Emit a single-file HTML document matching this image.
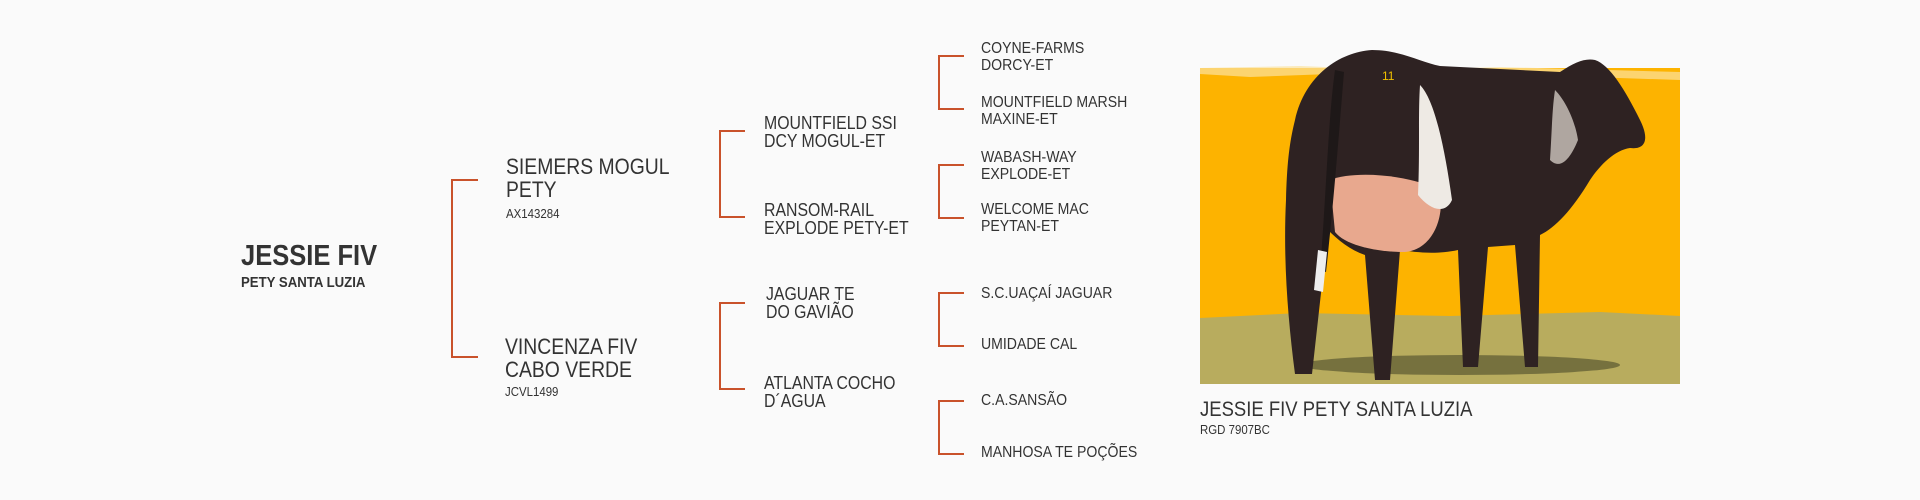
<!DOCTYPE html>
<html><head><meta charset="utf-8">
<style>
html,body{margin:0;padding:0;}
body{width:1920px;height:500px;background:#fafafa;position:relative;overflow:hidden;font-family:"Liberation Sans",sans-serif;color:#333;}
.t{position:absolute;white-space:nowrap;transform:scaleX(0.88);transform-origin:0 0;}
.g1{font-size:22px;line-height:23px;}
.g2{font-size:18px;line-height:18px;}
.g3{font-size:16px;line-height:16.5px;}
.id{font-size:13px;line-height:13px;}
.br{position:absolute;border:2.5px solid #c9522b;border-right:none;box-sizing:border-box;}
</style></head>
<body>
<div class="t" style="left:241px;top:240px;font-size:29px;line-height:32px;font-weight:bold;">JESSIE FIV</div>
<div class="t" style="left:241px;top:275px;font-size:15px;line-height:15px;font-weight:bold;">PETY SANTA LUZIA</div>

<div class="br" style="left:451px;top:179px;width:27px;height:179px;"></div>

<div class="t g1" style="left:506px;top:155px;">SIEMERS MOGUL<br>PETY</div>
<div class="t id" style="left:506px;top:207px;">AX143284</div>
<div class="t g1" style="left:505px;top:335px;">VINCENZA FIV<br>CABO VERDE</div>
<div class="t id" style="left:505px;top:385px;">JCVL1499</div>

<div class="br" style="left:719px;top:130px;width:26px;height:88px;"></div>
<div class="br" style="left:719px;top:302px;width:26px;height:88px;"></div>

<div class="t g2" style="left:764px;top:114px;">MOUNTFIELD SSI<br>DCY MOGUL-ET</div>
<div class="t g2" style="left:764px;top:201px;">RANSOM-RAIL<br>EXPLODE PETY-ET</div>
<div class="t g2" style="left:766px;top:285px;">JAGUAR TE<br>DO GAVIÃO</div>
<div class="t g2" style="left:764px;top:374px;">ATLANTA COCHO<br>D´AGUA</div>

<div class="br" style="left:938px;top:55px;width:26px;height:55px;"></div>
<div class="br" style="left:938px;top:164px;width:26px;height:55px;"></div>
<div class="br" style="left:938px;top:292px;width:26px;height:55px;"></div>
<div class="br" style="left:938px;top:400px;width:26px;height:55px;"></div>

<div class="t g3" style="left:981px;top:41px;">COYNE-FARMS<br>DORCY-ET</div>
<div class="t g3" style="left:981px;top:95px;">MOUNTFIELD MARSH<br>MAXINE-ET</div>
<div class="t g3" style="left:981px;top:150px;">WABASH-WAY<br>EXPLODE-ET</div>
<div class="t g3" style="left:981px;top:202px;">WELCOME MAC<br>PEYTAN-ET</div>
<div class="t g3" style="left:981px;top:286px;">S.C.UAÇAÍ JAGUAR</div>
<div class="t g3" style="left:981px;top:337px;">UMIDADE CAL</div>
<div class="t g3" style="left:981px;top:393px;">C.A.SANSÃO</div>
<div class="t g3" style="left:981px;top:445px;">MANHOSA TE POÇÕES</div>

<svg style="position:absolute;left:1200px;top:40px;" width="480" height="346" viewBox="1200 40 480 346">
  <rect x="1200" y="68" width="480" height="316" fill="#fdb300"/>
  <path d="M1200 68 L1300 66 L1400 70 L1500 67 L1680 72 L1680 80 L1560 76 L1450 80 L1330 74 L1250 77 L1200 74 Z" fill="#fbe2a0" opacity="0.7"/>
  <path d="M1200 318 L1300 313 L1450 316 L1600 312 L1680 316 L1680 384 L1200 384 Z" fill="#b8ac5e"/>
  <ellipse cx="1460" cy="365" rx="160" ry="10" fill="#4a4a2a" opacity="0.6"/>
  <path fill="#2e2222" d="M1295 120 C1305 75 1340 52 1372 50 C1400 50 1420 62 1440 66 L1560 72 C1575 62 1585 58 1595 60 C1610 65 1625 90 1640 120 C1650 140 1645 150 1630 148 C1615 150 1600 165 1590 180 C1572 210 1555 228 1540 235 L1538 367 L1525 367 L1515 245 L1488 247 L1478 367 L1463 367 L1458 250 C1435 255 1415 252 1400 250 L1390 380 L1375 380 L1365 255 C1350 250 1338 240 1328 230 L1312 374 L1295 374 C1288 320 1283 260 1286 200 C1287 160 1290 140 1295 120 Z"/>
  <path fill="#e8a88e" d="M1330 180 C1355 170 1410 175 1440 190 C1445 222 1430 250 1405 252 C1375 252 1345 245 1335 232 Z"/>
  <path fill="#eeeae4" d="M1420 85 C1435 100 1445 150 1452 200 C1445 215 1430 210 1418 195 C1420 150 1418 115 1420 85 Z"/>
  <path fill="#cfc8c0" opacity="0.8" d="M1555 90 C1565 100 1575 120 1578 140 C1570 160 1560 170 1550 160 C1552 130 1552 110 1555 90 Z"/>
  <path fill="#1e1818" d="M1335 70 C1328 120 1326 200 1320 270 L1326 272 C1334 200 1340 120 1344 72 Z"/>
  <path fill="#eee" d="M1318 250 L1327 252 L1323 292 L1314 290 Z"/>
  <text x="1382" y="80" font-size="12" fill="#f0c000" font-family="Liberation Sans, sans-serif">11</text>
</svg>

<div class="t" style="left:1200px;top:399px;font-size:21px;line-height:21px;">JESSIE FIV PETY SANTA LUZIA</div>
<div class="t id" style="left:1200px;top:423px;">RGD 7907BC</div>
</body></html>
